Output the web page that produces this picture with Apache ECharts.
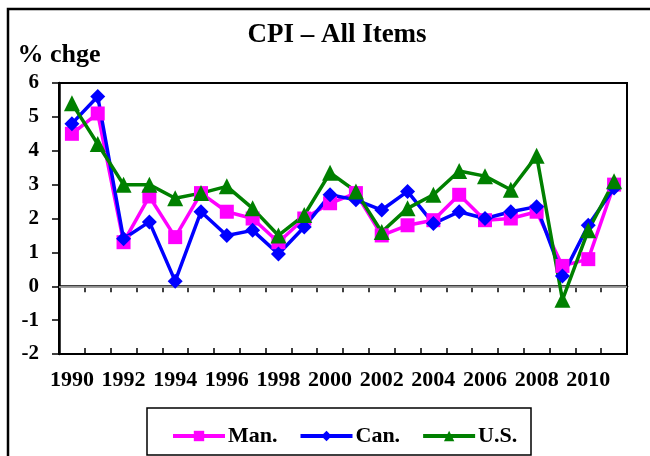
<!DOCTYPE html>
<html>
<head>
<meta charset="utf-8">
<script src="https://cdn.jsdelivr.net/npm/echarts@6/dist/echarts.min.js"></script>
<style>
html,body{margin:0;padding:0;background:#fff;}
#chart{width:650px;height:456px;}
</style>
</head>
<body>
<div id="chart"></div>
<script>
var years = ['1990','1991','1992','1993','1994','1995','1996','1997','1998','1999','2000','2001','2002','2003','2004','2005','2006','2007','2008','2009','2010','2011'];
var manValues = [4.5, 5.1, 1.3, 2.65, 1.45, 2.75, 2.2, 2.0, 1.3, 2.0, 2.45, 2.75, 1.5, 1.8, 1.95, 2.7, 1.95, 2.0, 2.2, 0.6, 0.8, 3.0];
var canValues = [4.8, 5.6, 1.4, 1.9, 0.15, 2.2, 1.5, 1.65, 0.95, 1.75, 2.7, 2.55, 2.25, 2.8, 1.85, 2.2, 2.0, 2.2, 2.35, 0.3, 1.8, 2.9];
var usValues = [5.4, 4.2, 3.0, 3.0, 2.6, 2.75, 2.95, 2.3, 1.5, 2.1, 3.35, 2.8, 1.6, 2.3, 2.7, 3.4, 3.25, 2.85, 3.85, -0.4, 1.65, 3.1];
var yTicks = [-2, -1, 0, 1, 2, 3, 4, 5, 6];

var FONT = '"Liberation Serif", "Times New Roman", serif';
var chart = echarts.init(document.getElementById('chart'), null, {renderer: 'canvas'});

var option = {
  animation: false,
  backgroundColor: '#fff',
  graphic: [
    {type: 'rect', shape: {x: 8, y: 9, width: 700, height: 500}, style: {fill: 'none', stroke: '#000', lineWidth: 2.5}, silent: true},
    {type: 'rect', shape: {x: 147, y: 408, width: 384, height: 47}, style: {fill: '#fff', stroke: '#000', lineWidth: 1.5}, silent: true, z: 0},
    {type: 'text', x: 337, y: 35, style: {text: 'CPI \u2013 All Items', font: 'bold 27px ' + FONT, fill: '#000', textAlign: 'center', textVerticalAlign: 'middle'}, silent: true}
  ],
  grid: {left: 59, right: 23, top: 83, bottom: 102, show: true, borderColor: '#000', borderWidth: 2, backgroundColor: 'transparent'},
  legend: {
    left: 166, top: 420, z: 10,
    itemWidth: 52, itemHeight: 13, itemGap: 21,
    lineStyle: {width: 4},
    textStyle: {fontFamily: FONT, fontWeight: 'bold', fontSize: 22, color: '#000', padding: [0, 0, 0, -2]},
    data: ['Man.', 'Can.', 'U.S.']
  },
  xAxis: [
    {
      type: 'category', data: years, boundaryGap: true, position: 'bottom',
      axisLine: {lineStyle: {color: '#000', width: 2.5}},
      axisTick: {show: true, interval: 0, length: 6, lineStyle: {color: '#000', width: 1.5}},
      axisLabel: {interval: 1, margin: 15, fontFamily: FONT, fontWeight: 'bold', fontSize: 22, color: '#000'},
      splitLine: {show: false}
    },
    {
      type: 'category', data: years, boundaryGap: true, position: 'bottom',
      axisLine: {show: false},
      axisTick: {show: true, inside: true, interval: 0, length: 6, lineStyle: {color: '#000', width: 1.5}},
      axisLabel: {show: false},
      splitLine: {show: false}
    }
  ],
  yAxis: {
    type: 'value', min: yTicks[0], max: yTicks[yTicks.length - 1], interval: 1,
    name: '% chge', nameLocation: 'end', nameGap: 15,
    nameTextStyle: {fontFamily: FONT, fontWeight: 'bold', fontSize: 26, color: '#000', align: 'center', verticalAlign: 'bottom'},
    axisLine: {show: true, lineStyle: {color: '#000', width: 2.5}},
    axisTick: {show: true, length: 7, lineStyle: {color: '#000', width: 1.5}},
    axisLabel: {margin: 20, fontFamily: FONT, fontWeight: 'bold', fontSize: 21, color: '#000'},
    splitLine: {show: false}
  },
  series: [
    {
      name: 'Man.', type: 'line', data: manValues, xAxisIndex: 0,
      symbol: 'rect', symbolSize: 14,
      lineStyle: {color: '#ff00ff', width: 3.5}, itemStyle: {color: '#ff00ff'},
      markLine: {silent: true, symbol: 'none', label: {show: false}, lineStyle: {color: '#c0c0c0', width: 1.5, type: 'solid'}, data: [{yAxis: 0}], z: 1}
    },
    {
      name: 'Can.', type: 'line', data: canValues, xAxisIndex: 0,
      symbol: 'diamond', symbolSize: 15,
      lineStyle: {color: '#0000ff', width: 3.5}, itemStyle: {color: '#0000ff'}
    },
    {
      name: 'U.S.', type: 'line', data: usValues, xAxisIndex: 0,
      symbol: 'triangle', symbolSize: 16,
      lineStyle: {color: '#008000', width: 3.5}, itemStyle: {color: '#008000'}
    }
  ]
};
chart.setOption(option);
</script>
</body>
</html>
